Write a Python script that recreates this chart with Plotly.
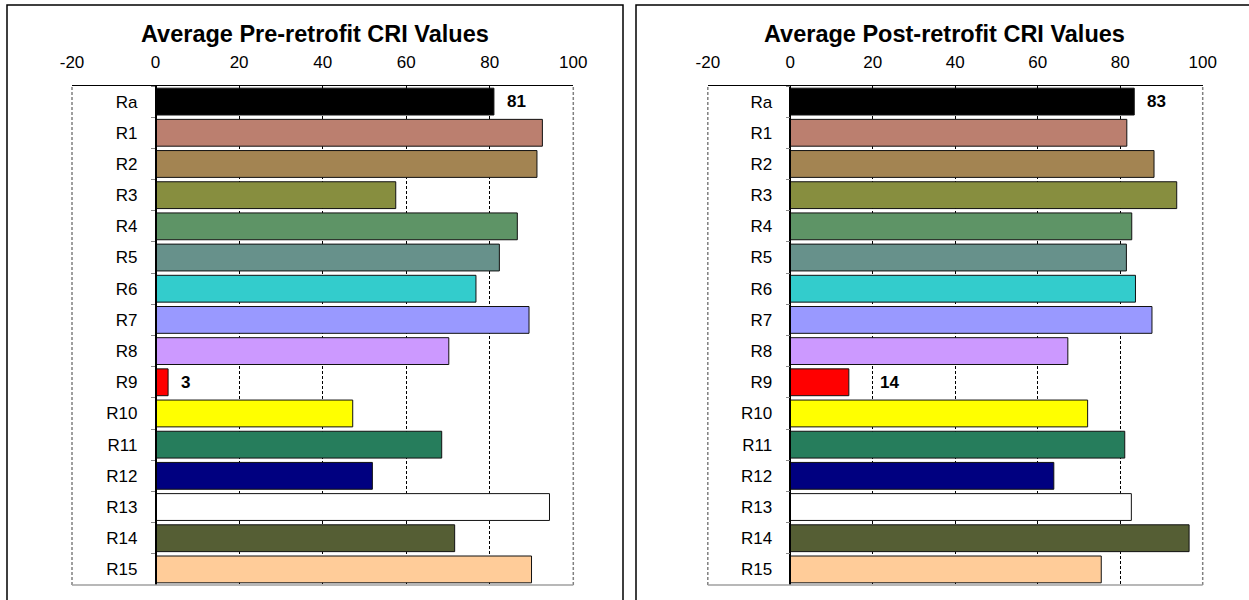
import plotly.graph_objects as go

# ---------------- data ----------------
categories = ["Ra", "R1", "R2", "R3", "R4", "R5", "R6", "R7", "R8", "R9",
              "R10", "R11", "R12", "R13", "R14", "R15"]
pre_values = [81.0, 92.6, 91.3, 57.5, 86.6, 82.3, 76.7, 89.4, 70.2, 3.0,
              47.2, 68.5, 51.9, 94.3, 71.6, 90.0]
post_values = [83.4, 81.6, 88.2, 93.7, 82.8, 81.5, 83.7, 87.7, 67.3, 14.2,
               72.1, 81.1, 63.9, 82.7, 96.7, 75.4]
bar_colors = ["#000000", "#BB7F6F", "#A38452", "#878E3F", "#5E9466", "#67918B",
              "#33CCCC", "#9999FF", "#CC99FF", "#FF0000", "#FFFF00", "#267D5C",
              "#000080", "#FFFFFF", "#555E34", "#FFCC99"]
labeled_categories = ["Ra", "R9"]
x_ticks = [-20, 0, 20, 40, 60, 80, 100]
titles = ["Average Pre-retrofit CRI Values", "Average Post-retrofit CRI Values"]

# ---------------- layout geometry ----------------
W, H = 1249, 600
FONT = "Liberation Sans, Arial, sans-serif"
x_domains = [[72 / W, 573.3 / W], [707.8 / W, 1202.7 / W]]
y_domain = [1 - 585 / H, 1 - 86 / H]
x_range = [-20, 100]
label_shifts = [{"Ra": 11, "R9": 11}, {"Ra": 11, "R9": 29}]

fig = go.Figure()
annotations = []
shapes = []

for i, (vals, title) in enumerate(zip([pre_values, post_values], titles)):
    xa = "x" if i == 0 else "x2"
    ya = "y" if i == 0 else "y2"
    fig.add_trace(go.Bar(
        x=vals, y=categories, orientation="h",
        marker=dict(color=bar_colors, line=dict(color="#111111", width=1)),
        xaxis=xa, yaxis=ya, showlegend=False, hoverinfo="x+y",
    ))
    d0, d1 = x_domains[i]
    zero_pos = d0 + (0 - x_range[0]) / (x_range[1] - x_range[0]) * (d1 - d0)
    axis_x = dict(
        domain=[d0, d1], range=x_range, side="top", anchor=ya,
        tickvals=x_ticks, ticktext=[str(t) for t in x_ticks],
        showgrid=True, gridcolor="#000000", gridwidth=1, griddash="3px,2px",
        showline=True, linecolor="#000000", linewidth=1,
        zeroline=False, ticks="", ticklabelstandoff=10, automargin=False,
        tickfont=dict(family=FONT, size=17, color="#000000"),
        fixedrange=True,
    )
    axis_y = dict(
        domain=y_domain, type="category", categoryorder="array",
        categoryarray=categories, autorange="reversed",
        anchor="free", position=zero_pos, automargin=False,
        showline=True, linecolor="#000000", linewidth=1.5,
        ticks="outside", tickson="boundaries", ticklen=4, tickcolor="#888888",
        ticklabelstandoff=14,
        tickfont=dict(family=FONT, size=17, color="#000000"),
        showgrid=False, zeroline=False, fixedrange=True,
    )
    if i == 0:
        fig.update_layout(xaxis=axis_x, yaxis=axis_y)
    else:
        fig.update_layout(xaxis2=axis_x, yaxis2=axis_y)

    # data labels
    for c, v in zip(categories, vals):
        if c in labeled_categories:
            annotations.append(dict(
                x=v, y=c, xref=xa, yref=ya, text="<b>%d</b>" % round(v),
                showarrow=False, xanchor="left", yanchor="middle",
                xshift=label_shifts[i][c],
                font=dict(family=FONT, size=17, color="#000000"),
            ))
    # title
    frame = [(7, 623), (636, 1252)][i]
    annotations.append(dict(
        x=(frame[0] + frame[1]) / 2 / W, y=1 - 34 / H, xref="paper", yref="paper",
        text="<b>%s</b>" % title, showarrow=False, xanchor="center", yanchor="middle",
        font=dict(family=FONT, size=23.5, color="#000000"),
    ))
    # outer frame
    shapes.append(dict(type="rect", xref="paper", yref="paper",
                       x0=frame[0] / W, x1=frame[1] / W, y0=-0.05, y1=1 - 5 / H,
                       line=dict(color="#000000", width=1.5), layer="below"))
    # plot-area borders (left, right dashed grey, bottom solid grey)
    for xb in (d0, d1):
        shapes.append(dict(type="line", xref="paper", yref="paper",
                           x0=xb, x1=xb, y0=y_domain[0], y1=y_domain[1],
                           line=dict(color="#808080", width=1.5, dash="3px,2px"),
                           layer="above"))
    shapes.append(dict(type="line", xref="paper", yref="paper",
                       x0=d0, x1=d1, y0=y_domain[0], y1=y_domain[0],
                       line=dict(color="#a0a0a0", width=1.5), layer="above"))

fig.update_layout(
    width=W, height=H, margin=dict(l=0, r=0, t=0, b=0, pad=0, autoexpand=False),
    paper_bgcolor="#FFFFFF", plot_bgcolor="#FFFFFF",
    bargap=0.14, annotations=annotations, shapes=shapes,
    font=dict(family=FONT, color="#000000"),
)

fig.write_html("out.html",
               config={"displayModeBar": False},
               post_script="document.body.style.margin='0px';"
                           "document.body.style.overflow='hidden';")
